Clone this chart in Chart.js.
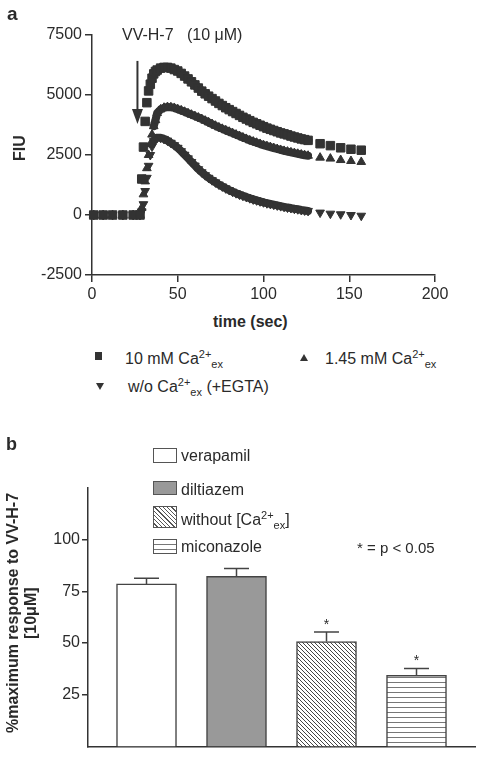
<!DOCTYPE html>
<html>
<head>
<meta charset="utf-8">
<script src="https://cdn.jsdelivr.net/npm/chart.js@4.4.0/dist/chart.umd.min.js"></script>
<style>
  body { margin: 0; width: 478px; height: 758px; position: relative; background: #fff; overflow: hidden;
         font-family: "Liberation Sans", Arial, sans-serif; color: #2a2a2a; }
  canvas { position: absolute; left: 0; }
  .t { position: absolute; font-size: 16px; line-height: 1; white-space: pre; }
  .vt { writing-mode: vertical-rl; transform: rotate(180deg); text-align: center; line-height: 18px; font-weight: bold; }
  sup, sub { font-size: 11px; line-height: 0; }
  .box { position: absolute; left: 153px; width: 24px; box-sizing: border-box; border: 1px solid #555; }
  .mk { position: absolute; width: 0; height: 0; }
</style>
</head>
<body>
<canvas id="traceChart" width="478" height="310" style="top:0"></canvas>
<canvas id="barChart" width="478" height="318" style="top:440px"></canvas>

<!-- panel a texts -->
<div class="t" style="left:7px; top:4px; font-size:19px; font-weight:bold">a</div>
<div class="t" style="left:122px; top:27px">VV-H-7   (10 μM)</div>
<div class="t vt" style="left:11px; top:48px; width:18px; height:200px">FIU</div>
<div class="t" style="left:213px; top:314px; font-weight:bold">time (sec)</div>

<div class="mk" style="left:95px; top:352px; width:7px; height:8px; background:#333"></div>
<div class="t" style="left:125px; top:350.5px">10 mM Ca<sup>2+</sup><sub>ex</sub></div>
<div class="mk" style="left:299.5px; top:354px; border-left:4.5px solid transparent; border-right:4.5px solid transparent; border-bottom:7px solid #333"></div>
<div class="t" style="left:325px; top:350.5px">1.45 mM Ca<sup>2+</sup><sub>ex</sub></div>
<div class="mk" style="left:96px; top:383px; border-left:4px solid transparent; border-right:4px solid transparent; border-top:7px solid #333"></div>
<div class="t" style="left:128px; top:378.5px">w/o Ca<sup>2+</sup><sub>ex</sub> (+EGTA)</div>

<!-- panel b texts -->
<div class="t" style="left:6px; top:435px; font-size:18px; font-weight:bold">b</div>
<div class="t vt" style="left:4px; top:463px; width:36px; height:300px">%maximum response to VV-H-7<br>[10μM]</div>

<div class="box" style="top:448px; height:15px; background:#fff"></div>
<div class="t" style="left:181px; top:447.5px">verapamil</div>
<div class="box" style="top:481px; height:14px; background:#999"></div>
<div class="t" style="left:181px; top:481.5px">diltiazem</div>
<div class="box" style="top:506px; height:22px; background:repeating-linear-gradient(45deg, #fff 0 2px, #555 2px 3px)"></div>
<div class="t" style="left:181px; top:511.5px">without [Ca<sup>2+</sup><sub>ex</sub>]</div>
<div class="box" style="top:539px; height:15px; background:repeating-linear-gradient(to bottom, #fff 0 4px, #777 4px 5px)"></div>
<div class="t" style="left:181px; top:538.5px">miconazole</div>
<div class="t" style="left:357px; top:540px; font-size:15px">* = p &lt; 0.05</div>

<script>
// ---- panel a: fluorescence traces (time in s, FIU) ----
const baseTime = [1, 6.5, 12, 18, 24, 28];
const riseTime = [29, 30, 31, 32, 33, 34, 35, 36, 37];
const decayTime = [38, 40, 42, 44, 46, 48, 50, 52, 54, 56, 58, 60, 62, 64, 66, 68, 70, 72, 74, 76, 78, 80, 82, 84, 86,
                   88, 90, 92, 94, 96, 98, 100, 102, 104, 106, 108, 110, 112, 114, 116, 118, 120, 122, 124, 126];
const tailTime = [133, 139, 145, 151, 157];

const base10mM = [0, 0, 0, 0, 0, 0];
const rise10mM = [1500, 2830, 3900, 4680, 5170, 5450, 5700, 5880, 5980];
const decay10mM = [6040, 6120, 6150, 6150, 6120, 6060, 6000, 5900, 5790, 5670, 5550, 5420, 5290, 5160, 5050, 4950, 4850,
                   4750, 4650, 4560, 4470, 4390, 4310, 4230, 4150, 4070, 4000, 3930, 3860, 3800, 3740, 3680, 3620, 3570,
                   3520, 3470, 3420, 3380, 3340, 3290, 3250, 3210, 3170, 3140, 3110];
const tail10mM = [2970, 2890, 2800, 2740, 2700];

const base145mM = [0, 0, 0, 0, 0, 0];
const rise145mM = [300, 860, 1400, 1950, 2500, 2950, 3350, 3700, 3950];
const decay145mM = [4250, 4400, 4470, 4500, 4490, 4460, 4410, 4360, 4300, 4240, 4180, 4120, 4060, 4000, 3930, 3860, 3790,
                    3720, 3650, 3590, 3530, 3470, 3410, 3350, 3290, 3230, 3170, 3110, 3060, 3010, 2960, 2910, 2870, 2830,
                    2790, 2750, 2710, 2670, 2640, 2610, 2580, 2550, 2520, 2490, 2470];
const tail145mM = [2390, 2350, 2290, 2250, 2210];

const baseEGTA = [0, 0, 0, 0, 0, 0];
const riseEGTA = [150, 450, 1000, 1550, 2050, 2500, 2850, 3080, 3200];
const decayEGTA = [3220, 3220, 3170, 3100, 3010, 2910, 2800, 2660, 2510, 2360, 2210, 2060, 1910, 1780, 1660, 1550, 1450,
                   1360, 1270, 1190, 1110, 1040, 970, 910, 850, 800, 750, 700, 650, 610, 570, 530, 490, 460, 430, 400,
                   370, 340, 310, 290, 260, 240, 210, 190, 170];
const tailEGTA = [100, 55, 30, 0, -30];

// VV-H-7 addition arrow
const arrowTime = 26.5;
const arrowFrom = 6420;
const arrowTo = 3790;

// ---- panel b: % of maximum response ----
const drugNames = ['verapamil', 'diltiazem', 'without [Ca2+ex]', 'miconazole'];
const barPos = [1, 2, 3, 4];
const meanResponse = [78.6, 82.3, 50.7, 34.4];
const semResponse = [2.8, 3.7, 4.6, 3.3];
const significant = [false, false, true, true];
const barTicks = [25, 50, 75, 100];

Chart.defaults.font.family = '"Liberation Sans", Arial, sans-serif';
Chart.defaults.color = '#2a2a2a';

function toPoints(parts) {
    const pts = [];
    parts.forEach(([ts, vs]) => ts.forEach((t, i) => pts.push({ x: t, y: vs[i] })));
    return pts;
}

// the densely sampled stretch (end of rise + decay) reads as a solid band
const denseStart = baseTime.length + riseTime.length - 2;
const denseEnd = baseTime.length + riseTime.length + decayTime.length - 1;
const inDense = i => i >= denseStart && i < denseEnd;

const arrowMark = {
    id: 'arrowMark',
    afterDatasetsDraw(chart) {
        const { ctx, scales: { x, y } } = chart;
        const px = x.getPixelForValue(arrowTime);
        const y0 = y.getPixelForValue(arrowFrom);
        const y1 = y.getPixelForValue(arrowTo);
        ctx.save();
        ctx.strokeStyle = '#333';
        ctx.fillStyle = '#333';
        ctx.lineWidth = 2;
        ctx.beginPath();
        ctx.moveTo(px, y0);
        ctx.lineTo(px, y1 - 12);
        ctx.stroke();
        ctx.beginPath();
        ctx.moveTo(px - 5.5, y1 - 15);
        ctx.lineTo(px + 5.5, y1 - 15);
        ctx.lineTo(px, y1);
        ctx.closePath();
        ctx.fill();
        ctx.restore();
    }
};

const markColor = '#333';
function traceStyle(style, radius, bandWidth, rotation) {
    return {
        pointStyle: style,
        rotation: rotation || 0,
        pointRadius: radius,
        pointBackgroundColor: markColor,
        pointBorderColor: markColor,
        pointBorderWidth: 1,
        showLine: true,
        borderWidth: bandWidth,
        borderCapStyle: 'round',
        borderJoinStyle: 'round',
        segment: { borderColor: c => inDense(c.p0DataIndex) ? markColor : 'transparent' }
    };
}

new Chart(document.getElementById('traceChart'), {
    type: 'scatter',
    data: {
        datasets: [
            Object.assign({
                label: '10 mM Ca2+ex',
                data: toPoints([[baseTime, base10mM], [riseTime, rise10mM], [decayTime, decay10mM], [tailTime, tail10mM]])
            }, traceStyle('rect', 6, 9)),
            Object.assign({
                label: '1.45 mM Ca2+ex',
                data: toPoints([[baseTime, base145mM], [riseTime, rise145mM], [decayTime, decay145mM], [tailTime, tail145mM]])
            }, traceStyle('triangle', 5, 8)),
            Object.assign({
                label: 'w/o Ca2+ex (+EGTA)',
                data: toPoints([[baseTime, baseEGTA], [riseTime, riseEGTA], [decayTime, decayEGTA], [tailTime, tailEGTA]])
            }, traceStyle('triangle', 5, 8, 180))
        ]
    },
    options: {
        responsive: false,
        animation: false,
        devicePixelRatio: 1,
        clip: false,
        layout: { padding: { top: 35, right: 43, bottom: 0, left: 0 } },
        plugins: { legend: { display: false }, tooltip: { enabled: false } },
        scales: {
            x: {
                type: 'linear', min: 0, max: 200,
                afterFit: s => { s.height = 35; },
                ticks: { stepSize: 50, padding: 3, font: { size: 16 }, callback: v => String(v) },
                grid: { drawOnChartArea: false, tickLength: 7, color: '#333', lineWidth: 1.5 },
                border: { color: '#333', width: 1.5 }
            },
            y: {
                min: -2500, max: 7500,
                afterFit: s => { s.width = 92; },
                ticks: { stepSize: 2500, padding: 3, font: { size: 16 }, callback: v => String(v) },
                grid: { drawOnChartArea: false, tickLength: 7, color: '#333', lineWidth: 1.5 },
                border: { color: '#333', width: 1.5 }
            }
        }
    },
    plugins: [arrowMark]
});

// fill patterns for the hatched bars
function makePattern(draw, w, h) {
    const c = document.createElement('canvas');
    c.width = w;
    c.height = h;
    const g = c.getContext('2d');
    g.fillStyle = '#fff';
    g.fillRect(0, 0, w, h);
    draw(g);
    return g.createPattern(c, 'repeat');
}
const diagHatch = makePattern(g => {
    g.strokeStyle = '#444';
    g.lineWidth = 1;
    g.beginPath();
    for (let k = -1; k <= 1; k++) {
        g.moveTo(k * 4, 0);
        g.lineTo(k * 4 + 4, 4);
    }
    g.stroke();
}, 4, 4);
const lineHatch = makePattern(g => {
    g.fillStyle = '#777';
    g.fillRect(0, 2, 4, 1);
}, 4, 5);

const errorBars = {
    id: 'errorBars',
    afterDatasetsDraw(chart) {
        const { ctx, scales: { x, y } } = chart;
        ctx.save();
        ctx.strokeStyle = '#444';
        ctx.lineWidth = 1.5;
        ctx.fillStyle = '#2a2a2a';
        ctx.font = '14px "Liberation Sans", Arial, sans-serif';
        ctx.textAlign = 'center';
        barPos.forEach((pos, i) => {
            const px = x.getPixelForValue(pos);
            const yMean = y.getPixelForValue(meanResponse[i]);
            const yErr = y.getPixelForValue(meanResponse[i] + semResponse[i]);
            ctx.beginPath();
            ctx.moveTo(px, yMean);
            ctx.lineTo(px, yErr);
            ctx.moveTo(px - 12.5, yErr);
            ctx.lineTo(px + 12.5, yErr);
            ctx.stroke();
            if (significant[i]) {
                ctx.fillText('*', px, yErr - 3);
            }
        });
        ctx.restore();
    }
};

new Chart(document.getElementById('barChart'), {
    type: 'bar',
    data: {
        datasets: [{
            label: '% maximum response',
            data: barPos.map((p, i) => ({ x: p, y: meanResponse[i] })),
            backgroundColor: ['#fff', '#999', diagHatch, lineHatch],
            borderColor: '#444',
            borderWidth: 1.5,
            barThickness: 60
        }]
    },
    options: {
        responsive: false,
        animation: false,
        devicePixelRatio: 1,
        layout: { padding: { top: 48, right: 3, bottom: 1, left: 0 } },
        plugins: { legend: { display: false }, tooltip: { enabled: false } },
        scales: {
            x: {
                type: 'linear', min: 0.35, max: 4.65, offset: false,
                afterFit: s => { s.height = 0; },
                ticks: { display: false },
                grid: { display: false, offset: false },
                border: { color: '#333', width: 1.5 }
            },
            y: {
                min: 0, max: 125,
                afterBuildTicks: s => { s.ticks = barTicks.map(v => ({ value: v })); },
                afterFit: s => { s.width = 88; },
                ticks: { padding: 2, font: { size: 16 }, callback: v => String(v) },
                grid: { drawOnChartArea: false, tickLength: 6, color: '#333', lineWidth: 1.5 },
                border: { color: '#333', width: 1.5 }
            }
        }
    },
    plugins: [errorBars]
});
</script>
</body>
</html>
